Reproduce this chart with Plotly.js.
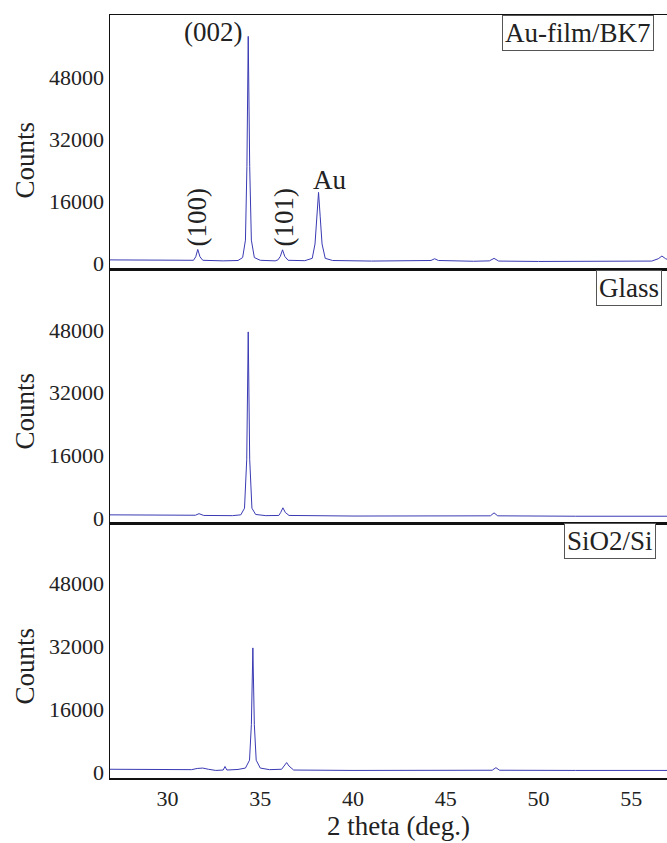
<!DOCTYPE html>
<html>
<head>
<meta charset="utf-8">
<script src="https://cdn.plot.ly/plotly-3.0.1.min.js"></script>
<style>
html,body{margin:0;padding:0;overflow:hidden;background:#fff;}
#chart{width:690px;height:843px;}
</style>
</head>
<body>
<div id="chart"></div>
<script>
// Panel 1: Au-film/BK7
const x1 = [26.9,28.0,29.0,30.0,31.0,31.4,31.52,31.63,31.75,31.9,33.0,33.8,34.05,34.2,34.28,34.35,34.43,34.52,34.68,35.0,35.8,35.95,36.08,36.2,36.32,36.5,37.4,37.8,37.95,38.05,38.14,38.23,38.33,38.5,38.9,41.0,43.9,44.2,44.4,44.6,46.5,47.35,47.6,47.85,50.0,55.0,56.1,56.45,56.65,56.85,57.2,58.0];
const y1 = [900,850,800,750,700,800,1700,3600,1700,800,650,750,1500,6000,25000,58500,25000,6000,1500,800,650,900,1800,3500,1800,800,700,1300,5000,12000,18300,12000,5000,1300,750,600,600,750,1200,750,550,650,1300,600,500,500,600,1200,1900,1200,600,500];
// Panel 2: Glass
const x2 = [26.9,29.0,31.0,31.5,31.7,31.95,33.5,33.95,34.15,34.27,34.35,34.43,34.55,34.75,35.3,36.0,36.1,36.22,36.35,36.55,40.0,44.2,44.4,44.6,47.4,47.6,47.8,52.0,58.0];
const y2 = [800,700,600,700,1100,650,600,800,2500,15000,47500,15000,2500,900,600,650,1400,2600,1400,650,500,500,650,500,550,1300,550,450,450];
// Panel 3: SiO2/Si
const x3 = [26.9,29.0,31.3,31.6,31.9,32.2,32.6,33.0,33.1,33.2,33.8,34.2,34.42,34.52,34.6,34.68,34.78,35.0,35.5,36.15,36.3,36.42,36.55,36.8,40.0,44.0,47.5,47.7,47.9,52.0,58.0];
const y3 = [700,650,600,900,1000,700,400,500,1400,500,650,1000,3000,12000,31500,12000,3000,1000,600,700,1600,2400,1500,500,400,400,450,1100,450,400,400];

const panelLabels = ["Au-film/BK7","Glass","SiO2/Si"];
const yTicks = [0,16000,32000,48000];
const yTickText = ["0","16000","32000","48000"];
const xTicks = [30,35,40,45,50,55];
const peakLabels = ["(002)","(100)","(101)","Au"];

const lineStyle = {color:"#3a3ab4", width:1};
const serif = "Liberation Serif, Times New Roman, Times, serif";
const txt = "#222";

const traces = [
  {x:x1, y:y1, xaxis:"x3", yaxis:"y", type:"scatter", mode:"lines", line:lineStyle, hoverinfo:"skip"},
  {x:x2, y:y2, xaxis:"x2", yaxis:"y2", type:"scatter", mode:"lines", line:lineStyle, hoverinfo:"skip"},
  {x:x3, y:y3, xaxis:"x", yaxis:"y3", type:"scatter", mode:"lines", line:lineStyle, hoverinfo:"skip"}
];

const xr = [26.9, 58.0];
const baseX = {range:xr, showline:true, mirror:true, linecolor:"#111", linewidth:1.5, showgrid:false, zeroline:false, ticks:"", tickvals:xTicks, tickfont:{family:serif, size:22, color:txt}};
const baseY = {showline:true, mirror:true, linecolor:"#111", linewidth:1.5, showgrid:false, zeroline:false, ticks:"", tickvals:yTicks, ticktext:yTickText, tickfont:{family:serif, size:22, color:txt}};

const boxFont = {family:serif, size:27, color:txt};
const peakFont = {family:serif, size:27, color:txt};
const cFont = {family:serif, size:27, color:txt};

const layout = {
  width:690, height:843,
  margin:{l:110, r:3, t:15, b:65},
  paper_bgcolor:"#fff", plot_bgcolor:"#fff",
  showlegend:false,
  font:{family:serif},
  xaxis: Object.assign({}, baseX, {anchor:"y3", title:{text:"2 theta (deg.)", font:{family:serif, size:27, color:txt}, standoff:2}}),
  xaxis2: Object.assign({}, baseX, {anchor:"y2", matches:"x", showticklabels:false}),
  xaxis3: Object.assign({}, baseX, {anchor:"y", matches:"x", showticklabels:false}),
  yaxis: Object.assign({}, baseY, {domain:[0.6658,1], range:[-1700,64000], anchor:"x3"}),
  yaxis2: Object.assign({}, baseY, {domain:[0.3342,0.6658], range:[-1280,63300], anchor:"x2"}),
  yaxis3: Object.assign({}, baseY, {domain:[0,0.3342], range:[-1520,63200], anchor:"x"}),
  annotations: [
    {xref:"paper", yref:"paper", x:0.6794, y:1, xanchor:"left", yanchor:"top", text:panelLabels[0], showarrow:false, font:boxFont, bordercolor:"#555", borderwidth:1, borderpad:2, bgcolor:"#fff"},
    {xref:"paper", yref:"paper", x:0.8423, y:0.6658, xanchor:"left", yanchor:"top", text:panelLabels[1], showarrow:false, font:boxFont, bordercolor:"#555", borderwidth:1, borderpad:2, bgcolor:"#fff"},
    {xref:"paper", yref:"paper", x:0.7868, y:0.3342, xanchor:"left", yanchor:"top", text:panelLabels[2], showarrow:false, font:boxFont, bordercolor:"#555", borderwidth:1, borderpad:2, bgcolor:"#fff"},
    {xref:"x3", yref:"y", x:32.45, y:59500, xanchor:"center", yanchor:"middle", text:peakLabels[0], showarrow:false, font:peakFont},
    {xref:"x3", yref:"y", x:31.6, y:11900, xanchor:"center", yanchor:"middle", text:peakLabels[1], textangle:-90, showarrow:false, font:peakFont},
    {xref:"x3", yref:"y", x:36.3, y:11900, xanchor:"center", yanchor:"middle", text:peakLabels[2], textangle:-90, showarrow:false, font:peakFont},
    {xref:"x3", yref:"y", x:38.75, y:21400, xanchor:"center", yanchor:"middle", text:peakLabels[3], showarrow:false, font:peakFont},
    {xref:"paper", yref:"paper", x:-0.148, xanchor:"center", y:0.81, yanchor:"middle", text:"Counts", textangle:-90, showarrow:false, font:cFont},
    {xref:"paper", yref:"paper", x:-0.148, xanchor:"center", y:0.481, yanchor:"middle", text:"Counts", textangle:-90, showarrow:false, font:cFont},
    {xref:"paper", yref:"paper", x:-0.148, xanchor:"center", y:0.1468, yanchor:"middle", text:"Counts", textangle:-90, showarrow:false, font:cFont}
  ]
};

Plotly.newPlot("chart", traces, layout, {staticPlot:true, displayModeBar:false});
</script>
</body>
</html>
